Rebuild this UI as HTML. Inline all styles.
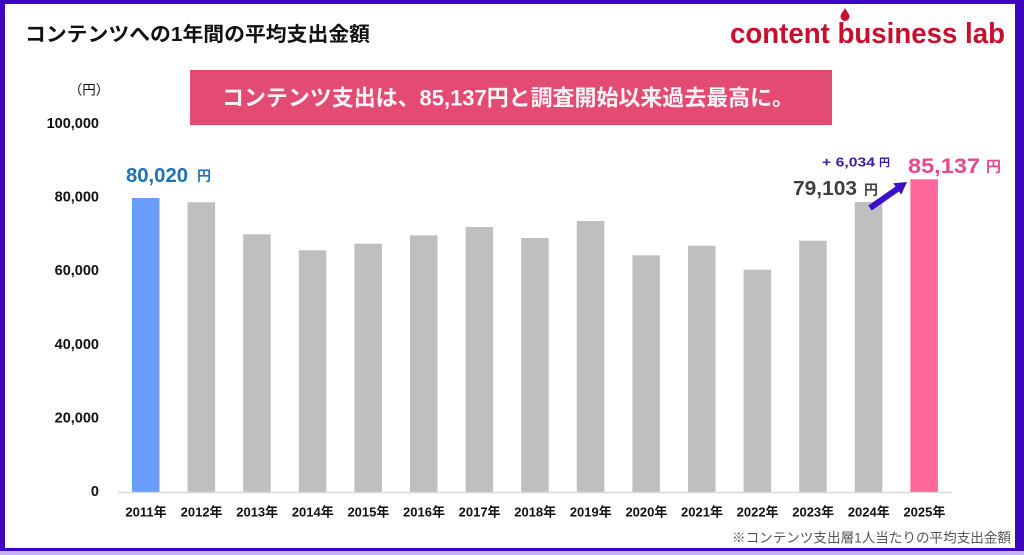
<!DOCTYPE html>
<html><head><meta charset="utf-8"><style>
html,body{margin:0;padding:0;background:#fff;}
svg{display:block;}
text{font-family:"Liberation Sans","Noto Sans CJK JP",sans-serif;}
</style></head><body>
<svg width="1024" height="555" viewBox="0 0 1024 555" xmlns="http://www.w3.org/2000/svg">
<rect x="0" y="0" width="1024" height="555" fill="#3b06bd"/>
<rect x="0" y="551" width="1024" height="4" fill="#c9b3f2"/>
<rect x="5" y="4" width="1010" height="544" fill="#ffffff"/>

<text x="25" y="35" dominant-baseline="central" font-size="20" font-weight="bold" fill="#111" textLength="345" lengthAdjust="spacingAndGlyphs">コンテンツへの1年間の平均支出金額</text>

<text x="730" y="43" font-size="29" font-weight="bold" fill="#c8102e" textLength="275" lengthAdjust="spacingAndGlyphs">content business lab</text>
<path d="M845 8 C847 12 849.5 14 849.5 16.5 A4.5 4.5 0 0 1 840.5 16.5 C840.5 14 843 12 845 8 Z" fill="#c8102e"/>

<text x="89" y="90" dominant-baseline="central" text-anchor="middle" font-size="13.5" fill="#111">（円）</text>

<rect x="190" y="70" width="642" height="55" fill="#e34b72"/>
<text x="222" y="98" dominant-baseline="central" font-size="22" font-weight="600" fill="#fbf3f5" textLength="572" lengthAdjust="spacingAndGlyphs">コンテンツ支出は、85,137円と調査開始以来過去最高に。</text>

<g font-size="14.5" font-weight="bold" fill="#111" text-anchor="end">
<text x="99" y="124" dominant-baseline="central">100,000</text>
<text x="99" y="197.6" dominant-baseline="central">80,000</text>
<text x="99" y="271.2" dominant-baseline="central">60,000</text>
<text x="99" y="344.8" dominant-baseline="central">40,000</text>
<text x="99" y="418.4" dominant-baseline="central">20,000</text>
<text x="99" y="492" dominant-baseline="central">0</text>
</g>

<g>
<rect x="132" y="198" width="27.5" height="294" fill="#6a9cfb"/>
<rect x="187.6" y="202.3" width="27.5" height="289.7" fill="#bfbfbf"/>
<rect x="243.2" y="234.3" width="27.5" height="257.7" fill="#bfbfbf"/>
<rect x="298.8" y="250.3" width="27.5" height="241.7" fill="#bfbfbf"/>
<rect x="354.4" y="243.7" width="27.5" height="248.3" fill="#bfbfbf"/>
<rect x="410" y="235.3" width="27.5" height="256.7" fill="#bfbfbf"/>
<rect x="465.6" y="227" width="27.5" height="265" fill="#bfbfbf"/>
<rect x="521.2" y="238" width="27.5" height="254" fill="#bfbfbf"/>
<rect x="576.8" y="221" width="27.5" height="271" fill="#bfbfbf"/>
<rect x="632.4" y="255.3" width="27.5" height="236.7" fill="#bfbfbf"/>
<rect x="688" y="245.7" width="27.5" height="246.3" fill="#bfbfbf"/>
<rect x="743.6" y="269.7" width="27.5" height="222.3" fill="#bfbfbf"/>
<rect x="799.2" y="240.7" width="27.5" height="251.3" fill="#bfbfbf"/>
<rect x="854.8" y="202" width="27.5" height="290" fill="#bfbfbf"/>
<rect x="910.4" y="179.3" width="27.5" height="312.7" fill="#ff6699"/>
</g>
<line x1="118" y1="492.5" x2="952" y2="492.5" stroke="#d9d9d9" stroke-width="1.5"/>

<g font-size="13" font-weight="bold" fill="#111" text-anchor="middle">
<text x="146" y="512" dominant-baseline="central">2011年</text>
<text x="201.6" y="512" dominant-baseline="central">2012年</text>
<text x="257.2" y="512" dominant-baseline="central">2013年</text>
<text x="312.8" y="512" dominant-baseline="central">2014年</text>
<text x="368.4" y="512" dominant-baseline="central">2015年</text>
<text x="424" y="512" dominant-baseline="central">2016年</text>
<text x="479.6" y="512" dominant-baseline="central">2017年</text>
<text x="535.2" y="512" dominant-baseline="central">2018年</text>
<text x="590.8" y="512" dominant-baseline="central">2019年</text>
<text x="646.4" y="512" dominant-baseline="central">2020年</text>
<text x="702" y="512" dominant-baseline="central">2021年</text>
<text x="757.6" y="512" dominant-baseline="central">2022年</text>
<text x="813.2" y="512" dominant-baseline="central">2023年</text>
<text x="868.8" y="512" dominant-baseline="central">2024年</text>
<text x="924.4" y="512" dominant-baseline="central">2025年</text>
</g>

<text x="732" y="538" dominant-baseline="central" font-size="13.5" fill="#555" textLength="279" lengthAdjust="spacingAndGlyphs">※コンテンツ支出層1人当たりの平均支出金額</text>

<!-- value labels -->
<text x="126" y="176" dominant-baseline="central" font-size="20" font-weight="bold" fill="#1f72b6" textLength="62" lengthAdjust="spacingAndGlyphs">80,020</text>
<text x="197" y="176" dominant-baseline="central" font-size="14" font-weight="bold" fill="#1f72b6">円</text>

<text x="793" y="189" dominant-baseline="central" font-size="20" font-weight="bold" fill="#404040" textLength="64" lengthAdjust="spacingAndGlyphs">79,103</text>
<text x="864" y="190" dominant-baseline="central" font-size="14" font-weight="bold" fill="#404040">円</text>

<text x="822" y="162" dominant-baseline="central" font-size="13" font-weight="bold" fill="#3a1a9e" textLength="53" lengthAdjust="spacingAndGlyphs">+ 6,034</text>
<text x="879" y="163" dominant-baseline="central" font-size="11" font-weight="bold" fill="#3a1a9e">円</text>

<text x="908" y="166.5" dominant-baseline="central" font-size="21" font-weight="bold" fill="#e8488f" textLength="72" lengthAdjust="spacingAndGlyphs">85,137</text>
<text x="986" y="167" dominant-baseline="central" font-size="15" font-weight="bold" fill="#e8488f">円</text>

<!-- arrow -->
<line x1="870" y1="208" x2="898" y2="188.5" stroke="#3c10c8" stroke-width="6"/>
<polygon points="907,182 901.2,194.6 893.2,183.2" fill="#3c10c8"/>
</svg>
</body></html>
